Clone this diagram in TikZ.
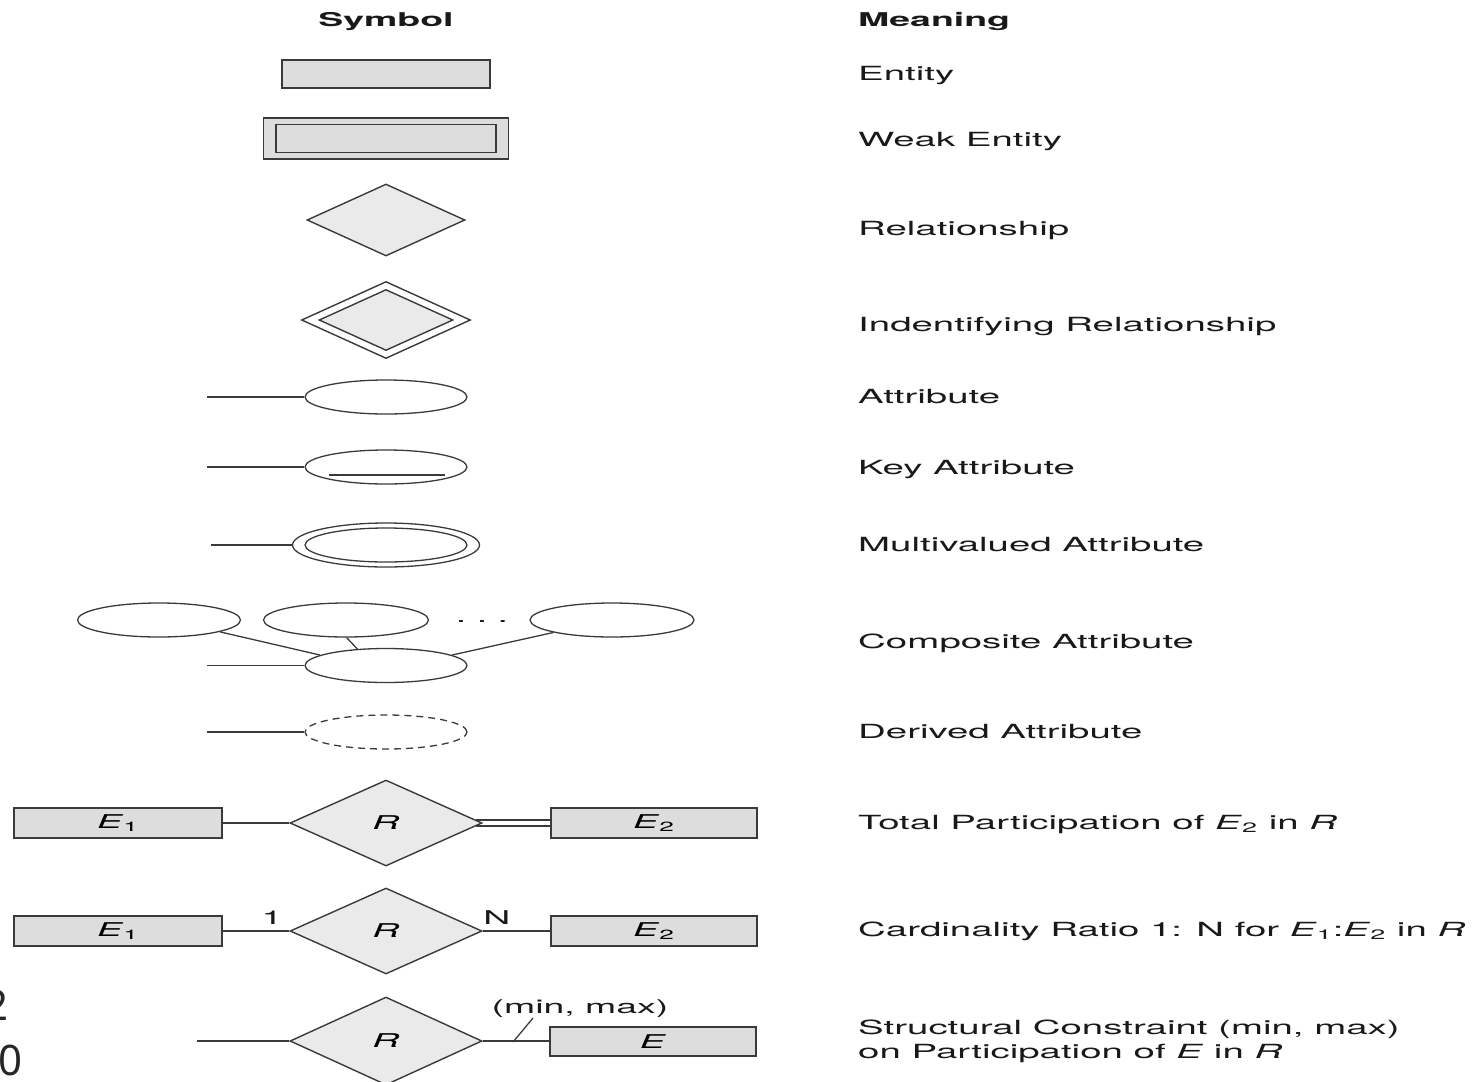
\documentclass[tikz,border=0pt]{standalone}
\usepackage{fontspec}
\usepackage{graphicx}
\setmainfont{TeX Gyre Heros}
\newfontfamily\notofont{Noto Sans}
\usetikzlibrary{shapes.geometric}
\definecolor{linec}{HTML}{3A3A3A}
\definecolor{entfill}{HTML}{DDDDDD}
\definecolor{relfill}{HTML}{EAEAEA}
\newcommand\wtxt[1]{\scalebox{1.97}[1]{#1}}
\newcommand\sbs[1]{\textsubscript{#1}}
\begin{document}
\begin{tikzpicture}[x=1pt,y=-1pt,
  conn/.style={draw=linec, line width=1.3pt},
  entity/.style={rectangle, draw=linec, fill=entfill, line width=1.4pt, inner sep=0pt,
    minimum width=208pt, minimum height=30pt, font=\fontsize{19}{22}\selectfont},
  rel/.style={diamond, draw=linec, fill=relfill, line width=1.4pt, inner sep=0pt,
    minimum width=192pt, minimum height=86pt, font=\fontsize{19}{22}\selectfont},
  attr/.style={ellipse, draw=linec, line width=1.3pt, inner sep=0pt,
    minimum width=162pt, minimum height=34pt},
  dlbl/.style={font=\fontsize{19}{22}\selectfont, inner sep=0pt, anchor=base, text=black!90},
  lbl/.style={font=\fontsize{19.5}{22}\selectfont, inner sep=0pt, anchor=base west, text=black!90},
  hdr/.style={font=\fontsize{19}{22}\selectfont\bfseries, inner sep=0pt, text=black!90},
  bignum/.style={font={\notofont\fontsize{42}{48}\selectfont}, inner sep=0pt, anchor=base west, text=black!85}
]
\useasboundingbox (0,0) rectangle (1479,1081);

% headers
\node[hdr, anchor=base] (hs) at (386,27) {\wtxt{Symbol}};
\node[hdr, anchor=base west] (hm) at (858,27) {\wtxt{Meaning}};

% entity
\node[entity, minimum width=208pt, minimum height=28pt] (ent) at (386,74) {};
% weak entity
\node[entity, minimum width=245pt, minimum height=41pt] (wo) at (386,138.5) {};
\node[entity, minimum width=220pt, minimum height=28pt] (wi) at (386,138.5) {};
% relationship
\node[rel, minimum width=158pt, minimum height=72pt] (rel) at (386,220) {};
% identifying relationship
\node[rel, fill=white, minimum width=169pt, minimum height=77pt] (ido) at (386,320) {};
\node[rel, minimum width=134pt, minimum height=61pt] (idi) at (386,320) {};

% attribute
\coordinate (a1l) at (207,397);
\node[attr] (a1) at (386,397) {};
\draw[conn] (a1l) -- (a1);
% key attribute
\coordinate (a2l) at (207,467);
\node[attr] (a2) at (386,467) {};
\draw[conn] (a2l) -- (a2);
\coordinate (u1) at (329,475);
\coordinate (u2) at (445,475);
\draw[conn, line width=1.1pt] (u1) -- (u2);
% multivalued
\coordinate (a3l) at (211,545);
\node[attr, minimum width=187pt, minimum height=44pt] (a3o) at (386,545) {};
\node[attr] (a3i) at (386,545) {};
\draw[conn] (a3l) -- (a3o);
% composite
\node[attr, minimum width=163pt] (c1) at (159,620) {};
\node[attr, minimum width=165pt] (c2) at (346,620) {};
\node[attr, minimum width=164pt] (c3) at (612,620) {};
\node[attr] (cb) at (386,665.5) {};
\coordinate (a4l) at (207,665.5);
\draw[conn] (a4l) -- (cb);
\draw[conn] (c1.-11) -- (cb.171);
\draw[conn] (c2.272) -- (cb.150);
\draw[conn] (c3.192) -- (cb.9);
\node[dlbl] (dots) at (482,622) {\wtxt{.\ .\ .}};
% derived
\coordinate (a5l) at (207,732);
\node[attr, dash pattern=on 7pt off 5pt] (a5) at (386,732) {};
\draw[conn] (a5l) -- (a5);

% total participation
\node[entity] (e1a) at (118,823) {\wtxt{\textit{E}\sbs{1}}};
\node[rel] (ra) at (386,823) {\wtxt{\textit{R}}};
\node[entity, minimum width=206pt] (e2a) at (654,823) {\wtxt{\textit{E}\sbs{2}}};
\draw[conn] (e1a) -- (ra);
\draw[conn] (ra.2.3) -- (ra.2.3 -| e2a.west);
\draw[conn] (ra.-2.3) -- (ra.-2.3 -| e2a.west);

% cardinality
\node[entity] (e1b) at (118,931) {\wtxt{\textit{E}\sbs{1}}};
\node[rel] (rb) at (386,931) {\wtxt{\textit{R}}};
\node[entity, minimum width=206pt] (e2b) at (654,931) {\wtxt{\textit{E}\sbs{2}}};
\draw[conn] (e1b) -- (rb);
\draw[conn] (rb) -- (e2b);
\node[dlbl] (one) at (272,924) {\wtxt{1}};
\node[dlbl] (nn) at (497,924) {\wtxt{N}};

% structural constraint
\coordinate (r3l) at (197,1041);
\node[rel, minimum height=88pt] (rc) at (386,1041) {\wtxt{\textit{R}}};
\node[entity, minimum width=206pt, minimum height=29pt] (e3) at (653,1041.5) {\wtxt{\textit{E}}};
\draw[conn] (r3l) -- (rc);
\draw[conn] (rc) -- (rc -| e3.west);
\coordinate (s1) at (513,1042);
\coordinate (s2) at (533,1018);
\draw[conn] (s1) -- (s2);
\node[dlbl] (mm) at (580,1013) {\wtxt{(min, max)}};

% meanings
\node[lbl] (m1) at (858,80) {\wtxt{Entity}};
\node[lbl] (m2) at (858,146) {\wtxt{Weak Entity}};
\node[lbl] (m3) at (858,235) {\wtxt{Relationship}};
\node[lbl] (m4) at (858,331) {\wtxt{Indentifying Relationship}};
\node[lbl] (m5) at (858,403) {\wtxt{Attribute}};
\node[lbl] (m6) at (858,474) {\wtxt{Key Attribute}};
\node[lbl] (m7) at (858,551) {\wtxt{Multivalued Attribute}};
\node[lbl] (m8) at (858,648) {\wtxt{Composite Attribute}};
\node[lbl] (m9) at (858,738) {\wtxt{Derived Attribute}};
\node[lbl] (m10) at (858,829) {\wtxt{Total Participation of \textit{E}\sbs{2} in \textit{R}}};
\node[lbl] (m11) at (858,936) {\wtxt{Cardinality Ratio 1: N for \textit{E}\sbs{1}:\textit{E}\sbs{2} in \textit{R}}};
\node[lbl] (m12) at (858,1034) {\wtxt{Structural Constraint (min, max)}};
\node[lbl] (m13) at (858,1058) {\wtxt{on Participation of \textit{E} in \textit{R}}};

% stray digits at left edge
\node[bignum] (n2) at (-16,1020) {2};
\node[bignum] (n0) at (-2,1075) {0};
\end{tikzpicture}
\end{document}
